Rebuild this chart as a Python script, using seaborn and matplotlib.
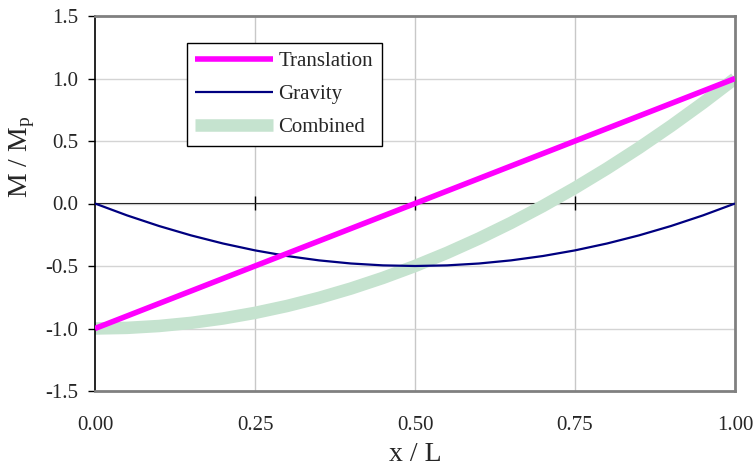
import matplotlib
matplotlib.use("Agg")
import matplotlib.pyplot as plt
import seaborn as sns
import pandas as pd

# Bending moment distributions along the member (x / L)
x_pos = [0.00, 0.05, 0.10, 0.15, 0.20, 0.25, 0.30, 0.35, 0.40, 0.45, 0.50,
         0.55, 0.60, 0.65, 0.70, 0.75, 0.80, 0.85, 0.90, 0.95, 1.00]
translation = [-1.00, -0.90, -0.80, -0.70, -0.60, -0.50, -0.40, -0.30, -0.20, -0.10, 0.00,
               0.10, 0.20, 0.30, 0.40, 0.50, 0.60, 0.70, 0.80, 0.90, 1.00]
gravity = [0.000, -0.095, -0.180, -0.255, -0.320, -0.375, -0.420, -0.455, -0.480, -0.495, -0.500,
           -0.495, -0.480, -0.455, -0.420, -0.375, -0.320, -0.255, -0.180, -0.095, 0.000]
combined = [-1.000, -0.995, -0.980, -0.955, -0.920, -0.875, -0.820, -0.755, -0.680, -0.595, -0.500,
            -0.395, -0.280, -0.155, -0.020, 0.125, 0.280, 0.445, 0.620, 0.805, 1.000]

x_ticks = [0.00, 0.25, 0.50, 0.75, 1.00]
x_ticklabels = ["0.00", "0.25", "0.50", "0.75", "1.00"]
y_ticks = [-1.5, -1.0, -0.5, 0.0, 0.5, 1.0, 1.5]
y_ticklabels = ["-1.5", "-1.0", "-0.5", "0.0", "0.5", "1.0", "1.5"]

sns.set_style("white")
plt.rcParams["font.family"] = ["Liberation Serif", "DejaVu Serif"]
plt.rcParams["mathtext.fontset"] = "custom"
plt.rcParams["mathtext.rm"] = "Liberation Serif"
plt.rcParams["mathtext.it"] = "Liberation Serif:italic"

df = pd.DataFrame({"x": x_pos, "Translation": translation,
                   "Gravity": gravity, "Combined": combined})

fig = plt.figure(figsize=(7.55, 4.67), dpi=100)
ax = fig.add_axes([95 / 755, 76 / 467, 640 / 755, 375 / 467])

# grid
for xv in x_ticks[1:-1]:
    ax.axvline(xv, color="#c8c8c8", lw=1.0, zorder=0)
for yv in y_ticks[1:-1]:
    ax.axhline(yv, color="#d4d4d4", lw=1.0, zorder=0)

sns.lineplot(data=df, x="x", y="Combined", ax=ax, color="#c5e3cf", lw=9,
             label="Combined", zorder=2)
sns.lineplot(data=df, x="x", y="Gravity", ax=ax, color="#000080", lw=1.6,
             label="Gravity", zorder=3)
sns.lineplot(data=df, x="x", y="Translation", ax=ax, color="#ff00ff", lw=4,
             label="Translation", zorder=4)
for ln in ax.get_lines():
    ln.set_solid_capstyle("butt")

ax.set_xlim(0, 1)
ax.set_ylim(-1.5, 1.5)

# frame
for side in ["top", "right", "bottom"]:
    ax.spines[side].set_color("#808080")
    ax.spines[side].set_linewidth(2)
ax.spines["left"].set_color("black")
ax.spines["left"].set_linewidth(1.2)

ax.set_yticks(y_ticks)
ax.set_yticklabels(y_ticklabels)
ax.tick_params(axis="y", direction="out", length=5, width=1, color="black",
               labelsize=15, pad=7, left=True)
ax.set_xticks(x_ticks)
ax.set_xticklabels(x_ticklabels)
ax.tick_params(axis="x", length=0, labelsize=15, pad=18)

# zero axis with crossing ticks
zero_ax = ax.secondary_xaxis(0.5)
zero_ax.set_xticks(x_ticks[1:-1])
zero_ax.tick_params(axis="x", direction="inout", length=10, width=1, color="black",
                    labelbottom=False, labeltop=False)
zero_ax.spines["bottom"].set_color("black")
zero_ax.spines["bottom"].set_linewidth(1.2)

ax.set_xlabel("x / L", fontsize=20, labelpad=5)
ax.set_ylabel(r"M / M$_\mathrm{p}$", fontsize=20)
ax.yaxis.set_label_coords(-0.09, 0.625)

handles, labels = ax.get_legend_handles_labels()
order = [labels.index(n) for n in ["Translation", "Gravity", "Combined"]]
leg = ax.legend([handles[i] for i in order], [labels[i] for i in order],
                loc="upper left", bbox_to_anchor=(0.143, 0.929), fontsize=15,
                frameon=True, fancybox=False, edgecolor="black", framealpha=1,
                handlelength=3.75, handletextpad=0.25, borderpad=0.42,
                labelspacing=0.64, borderaxespad=0)
leg.get_frame().set_linewidth(1.0)

fig.savefig("out.png", dpi=100)
